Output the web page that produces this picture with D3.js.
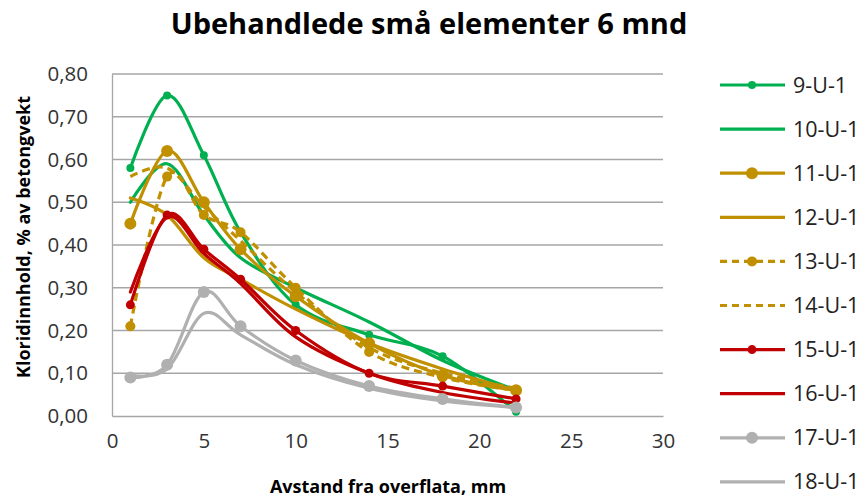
<!DOCTYPE html>
<html>
<head>
<meta charset="utf-8">
<script src="https://cdn.jsdelivr.net/npm/d3@7"></script>
<style>
  body { margin: 0; background: #fff; }
  svg { display: block; font-family: "Open Sans", sans-serif; }
</style>
</head>
<body>
<svg width="865" height="501"></svg>
<script>
// distances (mm)
const distances = [1, 3, 5, 7, 10, 14, 18, 22];

// chloride content, % of concrete weight
const s9 = [0.58, 0.75, 0.61, 0.43, 0.26, 0.19, 0.14, 0.01];
const s10 = [0.50, 0.59, 0.47, 0.37, 0.30, 0.22, 0.13, 0.06];
const s11 = [0.45, 0.62, 0.50, 0.39, 0.28, 0.17, 0.095, 0.06];
const s12 = [0.51, 0.47, 0.37, 0.32, 0.25, 0.17, 0.11, 0.06];
const s13 = [0.21, 0.56, 0.47, 0.43, 0.30, 0.15, 0.09, 0.06];
const s14 = [0.56, 0.58, 0.49, 0.41, 0.29, 0.16, 0.10, 0.065];
const s15 = [0.26, 0.47, 0.39, 0.32, 0.20, 0.10, 0.07, 0.04];
const s16 = [0.29, 0.465, 0.38, 0.31, 0.185, 0.10, 0.055, 0.03];
const s17 = [0.09, 0.12, 0.29, 0.21, 0.13, 0.07, 0.04, 0.02];
const s18 = [0.095, 0.11, 0.24, 0.19, 0.12, 0.065, 0.035, 0.02];

const seriesNames = ["9-U-1", "10-U-1", "11-U-1", "12-U-1", "13-U-1",
  "14-U-1", "15-U-1", "16-U-1", "17-U-1", "18-U-1"];
const seriesValues = [s9, s10, s11, s12, s13, s14, s15, s16, s17, s18];

const xTicks = [0, 5, 10, 15, 20, 25, 30];
const yTicks = [0, 0.1, 0.2, 0.3, 0.4, 0.5, 0.6, 0.7, 0.8];

const green = "#00b050", gold = "#c09000", red = "#c00000", grey = "#b0b0b0";
const styles = [
  { color: green, dash: null, r: 4 },
  { color: green, dash: null, r: 0 },
  { color: gold, dash: null, r: 6 },
  { color: gold, dash: null, r: 0 },
  { color: gold, dash: "8,5", r: 5 },
  { color: gold, dash: "8,5", r: 0 },
  { color: red, dash: null, r: 4.5 },
  { color: red, dash: null, r: 0 },
  { color: grey, dash: null, r: 6 },
  { color: grey, dash: null, r: 0 }
];

const data = seriesNames.map((name, i) => ({
  name,
  style: styles[i],
  points: distances.map((x, j) => ({ x, y: seriesValues[i][j] }))
}));

const svg = d3.select("svg");
const pLeft = 112, pRight = 663, pTop = 74, pBottom = 416;

const x = d3.scaleLinear().domain([0, 30]).range([pLeft, pRight]);
const y = d3.scaleLinear().domain([0, 0.8]).range([pBottom, pTop]);

// title
svg.append("text")
  .attr("x", 429).attr("y", 34)
  .attr("text-anchor", "middle")
  .style("font-size", "29px").style("font-weight", "bold")
  .text("Ubehandlede små elementer 6 mnd");

// gridlines
svg.append("g").selectAll("line")
  .data(yTicks.slice(1))
  .join("line")
  .attr("x1", pLeft).attr("x2", pRight)
  .attr("y1", d => y(d)).attr("y2", d => y(d))
  .attr("stroke", "#a6a6a6").attr("stroke-width", 1.3);

// axes
const fmt = d => d3.format(".2f")(d).replace(".", ",");
const yAxis = svg.append("g")
  .attr("transform", `translate(${pLeft},0)`)
  .call(d3.axisLeft(y).tickValues(yTicks).tickFormat(fmt).tickSize(0).tickPadding(24));
yAxis.select(".domain").attr("stroke", "#a6a6a6").attr("stroke-width", 1.3);
yAxis.selectAll("text").style("font-size", "20.5px").style("font-family", "Open Sans").attr("fill", "#333");

const xAxis = svg.append("g")
  .attr("transform", `translate(0,${pBottom})`)
  .call(d3.axisBottom(x).tickValues(xTicks).tickSize(0).tickPadding(17));
xAxis.select(".domain").attr("stroke", "#a6a6a6").attr("stroke-width", 1.3);
xAxis.selectAll("text").style("font-size", "20.5px").style("font-family", "Open Sans").attr("fill", "#333");

// axis titles
svg.append("text")
  .attr("transform", "translate(30,237) rotate(-90)")
  .attr("text-anchor", "middle")
  .style("font-size", "18px").style("font-weight", "bold")
  .text("Kloridinnhold, % av betongvekt");

svg.append("text")
  .attr("x", 388).attr("y", 493)
  .attr("text-anchor", "middle")
  .style("font-size", "18px").style("font-weight", "bold")
  .text("Avstand fra overflata, mm");

// series, first series at the bottom
const line = d3.line()
  .x(d => x(d.x)).y(d => y(d.y))
  .curve(d3.curveCardinal.tension(0));

const plot = svg.append("g");
data.forEach(d => {
  const g = plot.append("g");
  g.append("path")
    .attr("d", line(d.points))
    .attr("fill", "none")
    .attr("stroke", d.style.color)
    .attr("stroke-width", 3.2)
    .attr("stroke-dasharray", d.style.dash)
    .attr("stroke-linecap", d.style.dash ? "butt" : "round");
  if (d.style.r > 0) {
    g.selectAll("circle")
      .data(d.points)
      .join("circle")
      .attr("cx", p => x(p.x)).attr("cy", p => y(p.y))
      .attr("r", d.style.r)
      .attr("fill", d.style.color);
  }
});

// legend
const legend = svg.append("g").attr("transform", "translate(720,85)");
const item = legend.selectAll("g")
  .data(data)
  .join("g")
  .attr("transform", (d, i) => `translate(0,${i * 44.1})`);
item.append("line")
  .attr("x1", 0).attr("x2", 65)
  .attr("stroke", d => d.style.color)
  .attr("stroke-width", 3.2)
  .attr("stroke-dasharray", d => d.style.dash ? "7,5" : null);
item.filter(d => d.style.r > 0).append("circle")
  .attr("cx", 32).attr("r", d => d.style.r)
  .attr("fill", d => d.style.color);
item.append("text")
  .attr("x", 73).attr("dy", "0.35em")
  .style("font-size", "21.5px").attr("fill", "#222")
  .text(d => d.name);
</script>
</body>
</html>
